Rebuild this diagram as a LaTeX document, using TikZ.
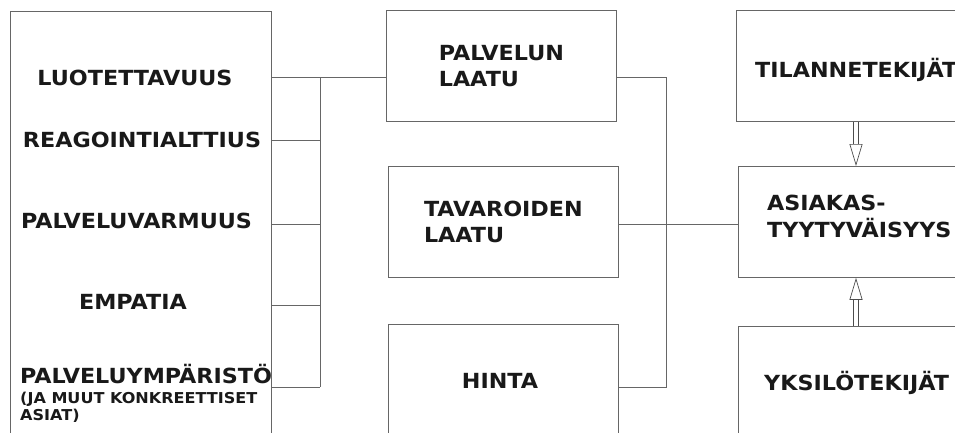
\documentclass[tikz,border=0pt]{standalone}
\usepackage{fontspec}
\setmainfont{DejaVu Sans}[FakeStretch=1.07]
\usetikzlibrary{arrows.meta}
\begin{document}
\begin{tikzpicture}[x=1pt,y=-1pt,
  box/.style={draw=black!60, line width=0.8pt, anchor=north west, inner sep=0pt},
  lbl/.style={font=\bfseries\fontsize{20.8}{26.5}\selectfont, text=black!90, inner sep=0pt},
  sml/.style={font=\bfseries\fontsize{15}{18}\selectfont, text=black!90, inner sep=0pt},
  wire/.style={draw=black!60, line width=0.8pt},
  tipopen/.style={draw=black!70, line width=0.7pt, -{Triangle[open,width=13pt,length=22pt]}},
  hollow/.style={draw=black!70, line width=0.7pt, double=white, double distance=4pt, shorten >=22pt}]
\useasboundingbox (0,0) rectangle (955,432);
% left box with the dimensions
\node[box, minimum width=261pt, minimum height=440pt] (dims) at (10,11) {};
\node[lbl] (luot) at (135,78) {LUOTETTAVUUS};
\node[lbl] (reag) at (142,140) {REAGOINTIALTTIUS};
\node[lbl] (varm) at (136.5,221) {PALVELUVARMUUS};
\node[lbl] (empa) at (133,302) {EMPATIA};
\node[lbl, anchor=base west] (ymp) at (20,383) {PALVELUYMPÄRISTÖ};
\node[sml, anchor=base west] (ymp2) at (20,403) {(JA MUUT KONKREETTISET};
\node[sml, anchor=base west] (ymp3) at (20,420) {ASIAT)};
% middle column
\node[box, minimum width=230pt, minimum height=111pt] (palv) at (386,10) {};
\node[lbl, align=left] (palvt) at (palv.center) {PALVELUN\\LAATU};
\node[box, minimum width=230pt, minimum height=111pt] (tava) at (388,166) {};
\node[lbl, align=left] (tavat) at (tava.center) {TAVAROIDEN\\LAATU};
\node[box, minimum width=230pt, minimum height=130pt] (hint) at (388,324) {};
\node[lbl] (hintt) at (500,381) {HINTA};
% right column
\node[box, minimum width=300pt, minimum height=111pt] (tila) at (736,10) {};
\node[lbl, anchor=west] (tilat) at (755,70) {TILANNETEKIJÄT};
\node[box, minimum width=300pt, minimum height=111pt] (asia) at (738,166) {};
\node[lbl, anchor=west, align=left] (asiat) at (767,216.5) {ASIAKAS-\\TYYTYVÄISYYS};
\node[box, minimum width=300pt, minimum height=130pt] (yksi) at (738,326) {};
\node[lbl, anchor=west] (yksit) at (764,383) {YKSILÖTEKIJÄT};
% connectors
\coordinate (bl) at (320,0);
\coordinate (br) at (666,0);
\coordinate (ax) at (856,0);
\coordinate (y1) at (0,77);
\coordinate (y2) at (0,140);
\coordinate (y3) at (0,224);
\coordinate (y4) at (0,305);
\coordinate (y5) at (0,387);
\foreach \n in {y1,y2,y3,y4,y5}
  \draw[wire] (dims.east |- \n) -- (bl |- \n);
\draw[wire] (bl |- y1) -- (bl |- y5);
\draw[wire] (bl |- y1) -- (palv.west |- y1);
\draw[wire] (palv.east |- y1) -- (br |- y1) -- (br |- y5) -- (hint.east |- y5);
\draw[wire] (tava.east |- y3) -- (asia.west |- y3);
% open arrows
\draw[tipopen] (ax |- tila.south) -- (ax |- asia.north);
\draw[hollow] (ax |- tila.south) -- (ax |- asia.north);
\draw[tipopen] (ax |- yksi.north) -- (ax |- asia.south);
\draw[hollow] (ax |- yksi.north) -- (ax |- asia.south);
\end{tikzpicture}
\end{document}
